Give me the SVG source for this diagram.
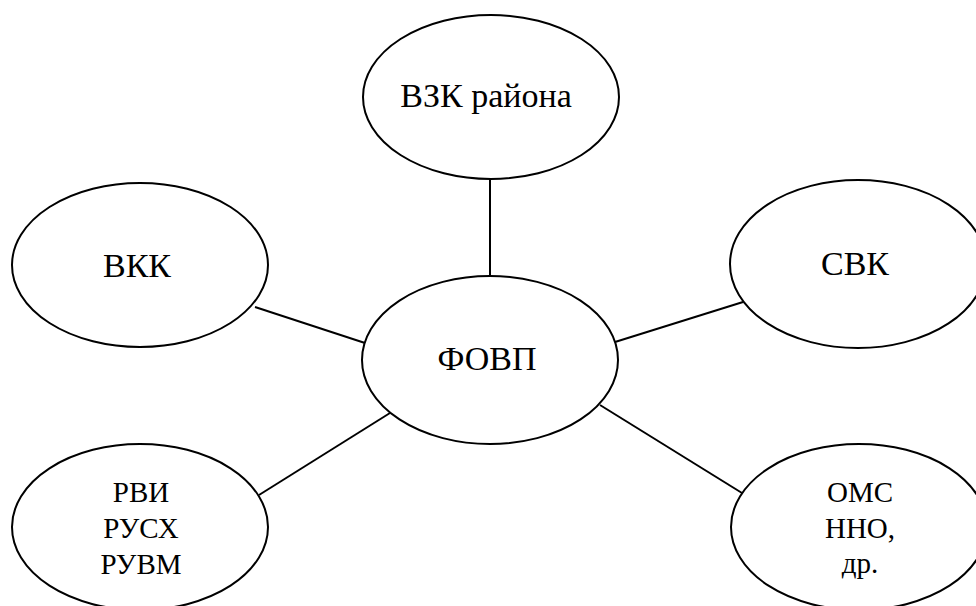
<svg xmlns="http://www.w3.org/2000/svg" width="976" height="606" viewBox="0 0 976 606">
<style>
.n{fill:#fff;stroke:#000;stroke-width:2}
.c line{stroke:#000;stroke-width:2}
text{font-family:'Liberation Serif','Times New Roman',serif;fill:#000;text-anchor:middle}
.big{font-size:34px}
.sm{font-size:29px}
</style>
<rect width="976" height="606" fill="#fff"/>
<g class="c" id="connectors">
<line x1="490" y1="179" x2="490" y2="276"/>
<line x1="255" y1="307" x2="365" y2="343"/>
<line x1="743" y1="302" x2="615" y2="342"/>
<line x1="259" y1="495" x2="390" y2="413"/>
<line x1="600" y1="405" x2="742" y2="493"/>
</g>
<g id="vzk"><ellipse class="n" cx="491" cy="97" rx="128" ry="82"/><text class="big" x="486" y="107">ВЗК района</text></g>
<g id="vkk"><ellipse class="n" cx="140" cy="265" rx="128" ry="82"/><text class="big" x="137" y="277">ВКК</text></g>
<g id="svk"><ellipse class="n" cx="858" cy="264" rx="128" ry="84"/><text class="big" x="855" y="275">СВК</text></g>
<g id="fovp"><ellipse class="n" cx="490" cy="360" rx="128" ry="84"/><text class="big" x="487" y="370">ФОВП</text></g>
<g id="rvi"><ellipse class="n" cx="140" cy="527" rx="128" ry="83"/><text class="sm" x="141" y="502">РВИ</text><text class="sm" x="141" y="538">РУСХ</text><text class="sm" x="141" y="574">РУВМ</text></g>
<g id="oms"><ellipse class="n" cx="859" cy="527" rx="128" ry="83"/><text class="sm" x="860" y="502">ОМС</text><text class="sm" x="860" y="538">ННО,</text><text class="sm" x="860" y="573">др.</text></g>
</svg>
